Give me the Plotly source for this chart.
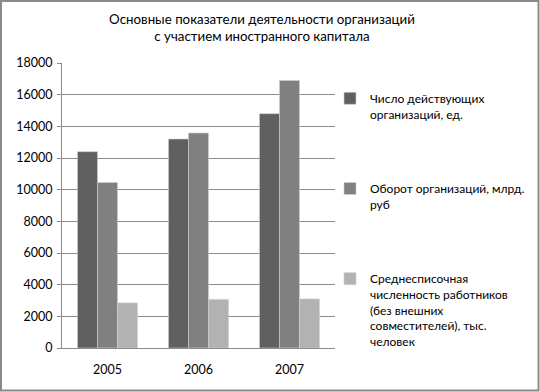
import plotly.graph_objects as go

years = ["2005", "2006", "2007"]
series_names = [
    "Число действующих<br>организаций, ед.",
    "Оборот организаций, млрд.<br>руб",
    "Среднесписочная<br>численность работников<br>(без внешних<br>совместителей), тыс.<br>человек",
]
orgs = [12400, 13200, 14800]
turnover = [10450, 13580, 16900]
workers = [2850, 3070, 3100]
colors = ["#606060", "#808080", "#b2b2b2"]
y_ticks = [0, 2000, 4000, 6000, 8000, 10000, 12000, 14000, 16000, 18000]

W, H = 540, 392
ml, mr, mt, mb = 62, 205, 63, 44

fig = go.Figure()
for i, (name, vals) in enumerate(zip(series_names, [orgs, turnover, workers])):
    fig.add_trace(go.Bar(
        x=years, y=vals, name=name,
        marker=dict(color=colors[i], line=dict(color="#d0d0d0", width=0.6)),
        legendgroup=str(i),
    ))

pw = W - ml - mr
ph = H - mt - mb
fig.add_shape(type="rect", xref="paper", yref="paper",
              x0=(1 - ml) / pw, x1=(538.5 - ml) / pw,
              y0=(H - 390.5 - mb) / ph, y1=(H - 1 - mb) / ph,
              line=dict(color="#8a8a8a", width=2), fillcolor="rgba(0,0,0,0)", layer="above")

font = "Lato, 'Open Sans', sans-serif"
fig.update_layout(
    width=W, height=H,
    margin=dict(l=ml, r=mr, t=mt, b=mb, autoexpand=False),
    paper_bgcolor="white", plot_bgcolor="white",
    font=dict(family=font, size=12, color="#000000"),
    title=dict(text="Основные показатели деятельности организаций<br>с участием иностранного капитала",
               x=262 / W, xanchor="center", y=1 - 24 / H, yanchor="top",
               font=dict(size=13.3, family=font, color="#000000")),
    barmode="group", bargap=0.34, bargroupgap=0,
    showlegend=True,
    legend=dict(x=(330 - ml) / pw, xanchor="left", y=1 - (84 - mt) / ph, yanchor="top",
                font=dict(size=12, family=font, color="#000000"),
                tracegroupgap=56, valign="top", itemwidth=30,
                bgcolor="rgba(0,0,0,0)"),
    xaxis=dict(showline=True, linecolor="#8c8c8c", linewidth=1, ticks="",
               tickfont=dict(size=12.5), showgrid=False, ticklabelstandoff=10),
    yaxis=dict(range=[0, 18000], tickvals=y_ticks, ticktext=[str(v) for v in y_ticks],
               showline=True, linecolor="#8c8c8c", linewidth=1,
               ticks="outside", ticklen=4, tickcolor="#8c8c8c",
               showgrid=True, gridcolor="#8c8c8c", gridwidth=1,
               tickfont=dict(size=12.5), zeroline=False, ticklabelstandoff=2),
)

fig.write_html("out.html", config={"displayModeBar": False},
               post_script="document.body.style.margin='0';document.body.style.overflow='hidden';")
